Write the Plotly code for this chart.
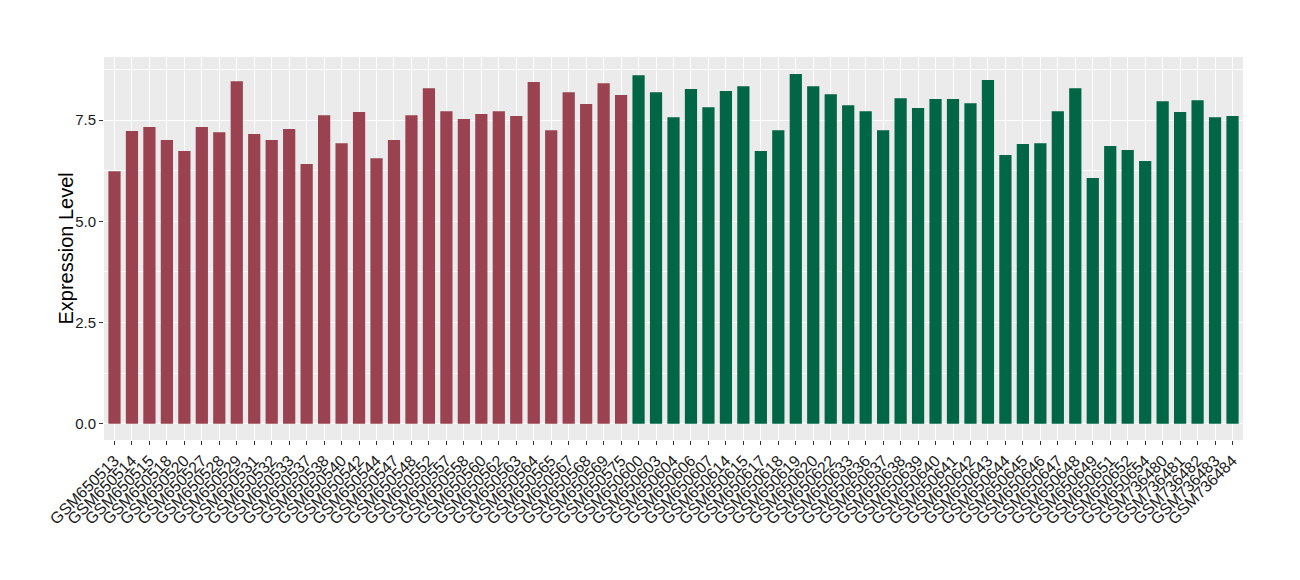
import plotly.graph_objects as go

group1_samples = ["GSM650513", "GSM650514", "GSM650515", "GSM650518", "GSM650520", "GSM650527",
                  "GSM650528", "GSM650529", "GSM650531", "GSM650532", "GSM650533", "GSM650537",
                  "GSM650538", "GSM650540", "GSM650542", "GSM650544", "GSM650547", "GSM650548",
                  "GSM650552", "GSM650557", "GSM650558", "GSM650560", "GSM650562", "GSM650563",
                  "GSM650564", "GSM650565", "GSM650567", "GSM650568", "GSM650569", "GSM650575"]
group1_values = [6.24, 7.23, 7.33, 7.01, 6.74, 7.33, 7.20, 8.46, 7.16, 7.01, 7.28, 6.42,
                 7.62, 6.93, 7.70, 6.56, 7.01, 7.62, 8.29, 7.72, 7.53, 7.65, 7.72, 7.60,
                 8.44, 7.25, 8.19, 7.90, 8.41, 8.12]

group2_samples = ["GSM650600", "GSM650603", "GSM650604", "GSM650606", "GSM650607", "GSM650614",
                  "GSM650615", "GSM650617", "GSM650618", "GSM650619", "GSM650620", "GSM650622",
                  "GSM650633", "GSM650636", "GSM650637", "GSM650638", "GSM650639", "GSM650640",
                  "GSM650641", "GSM650642", "GSM650643", "GSM650644", "GSM650645", "GSM650646",
                  "GSM650647", "GSM650648", "GSM650649", "GSM650651", "GSM650652", "GSM650654",
                  "GSM736480", "GSM736481", "GSM736482", "GSM736483", "GSM736484"]
group2_values = [8.61, 8.19, 7.57, 8.27, 7.82, 8.22, 8.34, 6.74, 7.25, 8.64, 8.34, 8.14,
                 7.87, 7.72, 7.25, 8.04, 7.80, 8.02, 8.02, 7.92, 8.49, 6.64, 6.91, 6.93,
                 7.72, 8.29, 6.07, 6.86, 6.76, 6.49, 7.97, 7.70, 7.99, 7.57, 7.60]

y_ticks = [0.0, 2.5, 5.0, 7.5]
y_tick_labels = ["0.0", "2.5", "5.0", "7.5"]
y_minor = [1.25, 3.75, 6.25, 8.75]
y_title = "Expression Level"

color1 = "#9A4250"
color2 = "#006645"

fig = go.Figure()
fig.add_trace(go.Bar(x=group1_samples, y=group1_values, marker_color=color1,
                     marker_line_width=0, showlegend=False))
fig.add_trace(go.Bar(x=group2_samples, y=group2_values, marker_color=color2,
                     marker_line_width=0, showlegend=False))

all_samples = group1_samples + group2_samples
n = len(all_samples)

fig.update_layout(
    width=1284, height=564,
    paper_bgcolor="white",
    plot_bgcolor="#EBEBEB",
    margin=dict(l=96, r=49, t=49, b=132, autoexpand=False),
    bargap=0.3,
    barmode="group",
    font=dict(family="Liberation Sans, Arial, sans-serif", color="#1a1a1a"),
    xaxis=dict(
        type="category",
        categoryorder="array", categoryarray=all_samples,
        range=[-0.6, n - 1 + 0.6],
        automargin=False,
        tickmode="array", tickvals=all_samples, ticktext=all_samples,
        showgrid=True, gridcolor="white", gridwidth=1.3,
        tickangle=-45,
        tickfont=dict(size=16, color="#1a1a1a"),
        ticks="outside", ticklen=4, tickcolor="#333333", tickwidth=1,
        showline=False, zeroline=False,
    ),
    yaxis=dict(
        range=[-0.4, 9.06],
        automargin=False,
        tickvals=y_ticks, ticktext=y_tick_labels,
        showgrid=True, gridcolor="white", gridwidth=1.3,
        minor=dict(tickvals=y_minor, showgrid=True, gridcolor="white", gridwidth=0.6),
        tickfont=dict(size=15, color="#1a1a1a"),
        ticks="outside", ticklen=4, tickcolor="#333333", tickwidth=1,
        zeroline=False, showline=False,
    ),
    annotations=[dict(
        text=y_title, xref="paper", yref="paper", x=0, y=0.5,
        xanchor="center", yanchor="middle", xshift=-39, textangle=-90,
        showarrow=False, font=dict(size=20, color="black"),
    )],
)

fig.write_html("out.html")
